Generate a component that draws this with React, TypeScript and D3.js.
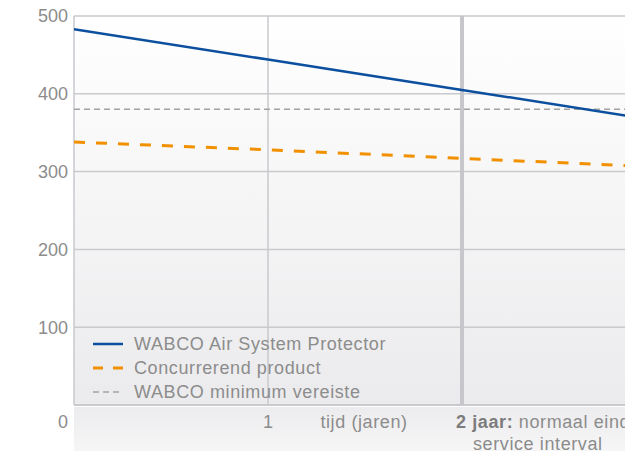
import * as React from 'react'
import { scaleLinear, line } from 'd3'

const years = [0, 1, 2, 3]
const wabco = [483, 444, 405, 366]
const competitor = [338, 328, 317, 306]
const minimum = [380, 380, 380, 380]
const gridTicks = [0, 100, 200, 300, 400, 500]
const yLabels = [100, 200, 300, 400, 500]
const xTicks = [1]

const legendItems = [
  { label: 'WABCO Air System Protector', color: '#0b4f9e', dash: 'none', width: 2.5 },
  { label: 'Concurrerend product', color: '#f29100', dash: '10,10', width: 3 },
  { label: 'WABCO minimum vereiste', color: '#a2a2a2', dash: '6,4', width: 1.5 },
]

const FONT = '"Liberation Sans", Arial, sans-serif'
const TEXT = '#8c8c8c'
const FS = 18
const LS = 0.6

function App() {
  const width = 625
  const height = 451
  const left = 74
  const top = 16
  const bottom = 405

  const x = scaleLinear().domain([0, 2.84]).range([left, width])
  const y = scaleLinear().domain([0, 500]).range([bottom, top])

  const makeLine = (vals: number[]) =>
    line<number>()
      .x((d, i) => x(years[i]))
      .y((d) => y(d))(vals) ?? ''

  return (
    <svg
      width={width}
      height={height}
      style={{ position: 'absolute', left: 0, top: 0, display: 'block' }}
      fontFamily={FONT}
    >
      <defs>
        <linearGradient id="plotBg" x1="0" y1="0" x2="0" y2="1">
          <stop offset="0%" stopColor="#ffffff" />
          <stop offset="100%" stopColor="#ebebed" />
        </linearGradient>
        <linearGradient id="axisBg" x1="0" y1="0" x2="0" y2="1">
          <stop offset="0%" stopColor="#ececee" />
          <stop offset="100%" stopColor="#f6f6f7" />
        </linearGradient>
        <clipPath id="plotClip">
          <rect x={left} y={top} width={width - left} height={bottom - top} />
        </clipPath>
      </defs>

      <rect x={left} y={top} width={width - left} height={bottom - top} fill="url(#plotBg)" />
      <rect x={left} y={bottom + 2} width={width - left} height={height - bottom - 2} fill="url(#axisBg)" />

      {/* horizontal grid */}
      {gridTicks.map((t) => (
        <line
          key={t}
          x1={left}
          x2={width}
          y1={y(t)}
          y2={y(t)}
          stroke="#c9c9ce"
          strokeWidth={t === 0 ? 2 : 1.5}
        />
      ))}
      <line x1={left} x2={left} y1={top} y2={bottom} stroke="#c9c9ce" strokeWidth={1.5} />
      {xTicks.map((t) => (
        <line key={t} x1={x(t)} x2={x(t)} y1={top} y2={bottom} stroke="#c9c9ce" strokeWidth={1.5} />
      ))}
      <line x1={x(2)} x2={x(2)} y1={top} y2={bottom} stroke="#c6c6cb" strokeWidth={4} />

      {/* y labels */}
      {yLabels.map((t) => (
        <text key={t} x={left - 6} y={y(t)} dy="0.35em" textAnchor="end" fontSize={FS} fill={TEXT}>
          {t}
        </text>
      ))}

      {/* series */}
      <g clipPath="url(#plotClip)">
        <path d={makeLine(minimum)} fill="none" stroke="#a2a2a2" strokeWidth={1.5} strokeDasharray="6,4" />
        <path d={makeLine(competitor)} fill="none" stroke="#f29100" strokeWidth={3} strokeDasharray="11,11" />
        <path d={makeLine(wabco)} fill="none" stroke="#0b4f9e" strokeWidth={2.5} />
      </g>

      {/* legend */}
      {legendItems.map((item, i) => {
        const ly = 344 + i * 24
        return (
          <g key={item.label}>
            <line
              x1={93}
              x2={123}
              y1={ly}
              y2={ly}
              stroke={item.color}
              strokeWidth={item.width}
              strokeDasharray={item.dash}
            />
            <text x={134} y={ly} dy="0.35em" fontSize={FS} letterSpacing={LS} fill={TEXT}>
              {item.label}
            </text>
          </g>
        )
      })}

      {/* x labels */}
      <text x={left - 6} y={422} dy="0.35em" textAnchor="end" fontSize={FS} fill={TEXT}>
        0
      </text>
      {xTicks.map((t) => (
        <text key={t} x={x(t)} y={422} dy="0.35em" textAnchor="middle" fontSize={FS} fill={TEXT}>
          {t}
        </text>
      ))}
      <text x={364} y={422} dy="0.35em" textAnchor="middle" fontSize={FS} letterSpacing={LS} fill={TEXT}>
        tijd (jaren)
      </text>
      <text x={456} y={422} dy="0.35em" fontSize={FS} letterSpacing={LS} fill={TEXT}>
        <tspan fontWeight="bold" fill="#7c7c7c">2 jaar:</tspan> normaal einde
      </text>
      <text x={473} y={444} dy="0.35em" fontSize={FS} letterSpacing={LS} fill={TEXT}>
        service interval
      </text>
    </svg>
  )
}

export default App
